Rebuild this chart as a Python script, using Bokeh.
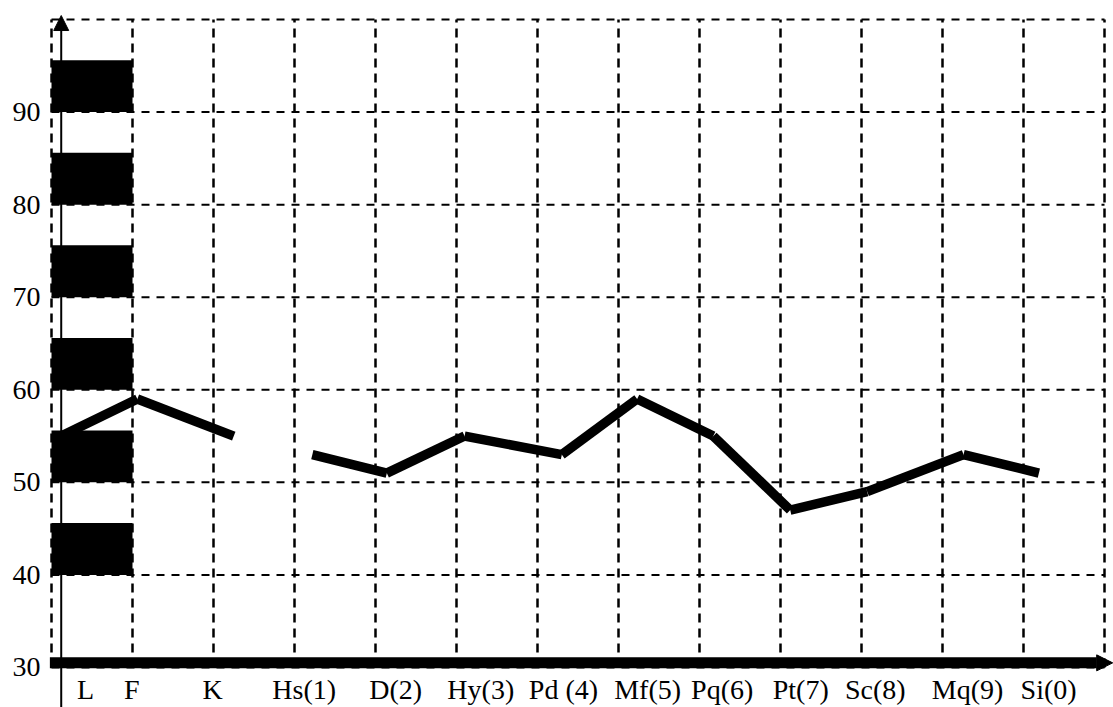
from bokeh.plotting import figure
from bokeh.models import Range1d, Arrow, NormalHead
from bokeh.embed import file_html
from bokeh.resources import INLINE
from bokeh.core.properties import value

# ---------------- data ----------------
validity_scales = ["L", "F", "K"]
validity_scores = [55, 59, 55]
clinical_scales = ["Hs(1)", "D(2)", "Hy(3)", "Pd (4)", "Mf(5)", "Pq(6)",
                   "Pt(7)", "Sc(8)", "Mq(9)", "Si(0)"]
clinical_scores = [53, 51, 55, 53, 59, 55, 47, 49, 53, 51]

# where each scale sits along the profile (in grid-column units)
validity_point_x = [0.12, 1.06, 2.25]
clinical_point_x = [3.22, 4.14, 5.10, 6.30, 7.23, 8.17, 9.12, 10.07, 11.26, 12.19]
validity_label_x = [0.42, 0.99, 1.99]
clinical_label_x = [3.12, 4.25, 5.30, 6.32, 7.36, 8.28, 9.25, 10.17, 11.31, 12.31]

y_ticks = [30, 40, 50, 60, 70, 80, 90]
y_tick_labels = ["30", "40", "50", "60", "70", "80", "90"]
band_bottoms = [40, 50, 60, 70, 80, 90]
band_height = 5.6

grid_columns = 13
y_min, y_max = 30, 100

# ---------------- layout ----------------
W, H = 1113, 707
kx = 81.0          # px per grid column
ky = 9.257         # px per score point
x_start = -51 / kx
x_end = x_start + W / kx
y_end = y_max + 19 / ky
y_start = y_end - H / ky

p = figure(width=W, height=H, x_range=Range1d(x_start, x_end),
           y_range=Range1d(y_start, y_end), x_axis_type=None, y_axis_type=None,
           toolbar_location=None, output_backend="svg", title=None,
           min_border=0, outline_line_color=None)
p.background_fill_color = "white"
p.border_fill_color = "white"

# black bands in the first column
p.quad(left=0, right=1, bottom=band_bottoms,
       top=[b + band_height for b in band_bottoms],
       fill_color="black", line_color=None)

# dashed grid
gx = list(range(grid_columns + 1))
p.segment(x0=gx, y0=[y_min] * len(gx), x1=gx, y1=[y_max] * len(gx),
          line_color="black", line_width=2.5, line_dash="9 6")
gy = list(range(y_min, y_max + 1, 10))
p.segment(x0=[0] * len(gy), y0=gy, x1=[grid_columns] * len(gy), y1=gy,
          line_color="black", line_width=2, line_dash="8 7")

# profile lines (two separate groups)
for xs, ys in ((validity_point_x, validity_scores), (clinical_point_x, clinical_scores)):
    p.segment(x0=xs[:-1], y0=ys[:-1], x1=xs[1:], y1=ys[1:],
              line_color="black", line_width=9.5, line_cap="butt")

# axes drawn as arrows
p.add_layout(Arrow(x_start=-0.02, y_start=y_min + 0.5, x_end=x_end - 0.01, y_end=y_min + 0.5,
                   line_color="black", line_width=11,
                   end=NormalHead(size=16, fill_color="black", line_color="black")))
p.add_layout(Arrow(x_start=validity_point_x[0], y_start=y_start,
                   x_end=validity_point_x[0], y_end=y_max + 0.43,
                   line_color="black", line_width=2,
                   end=NormalHead(size=15, fill_color="black", line_color="black")))

font = value("Liberation Serif")
p.text(x=[0] * len(y_ticks), y=y_ticks, text=y_tick_labels, x_offset=-11,
       text_align="right", text_baseline="middle", text_font=font,
       text_font_size="28px", text_color="black")
labels = validity_scales + clinical_scales
label_x = validity_label_x + clinical_label_x
p.text(x=label_x, y=[y_min] * len(labels), text=labels, y_offset=22,
       text_align="center", text_baseline="alphabetic", text_font=font,
       text_font_size="28px", text_color="black")

open("out.html", "w").write(file_html(p, INLINE))
